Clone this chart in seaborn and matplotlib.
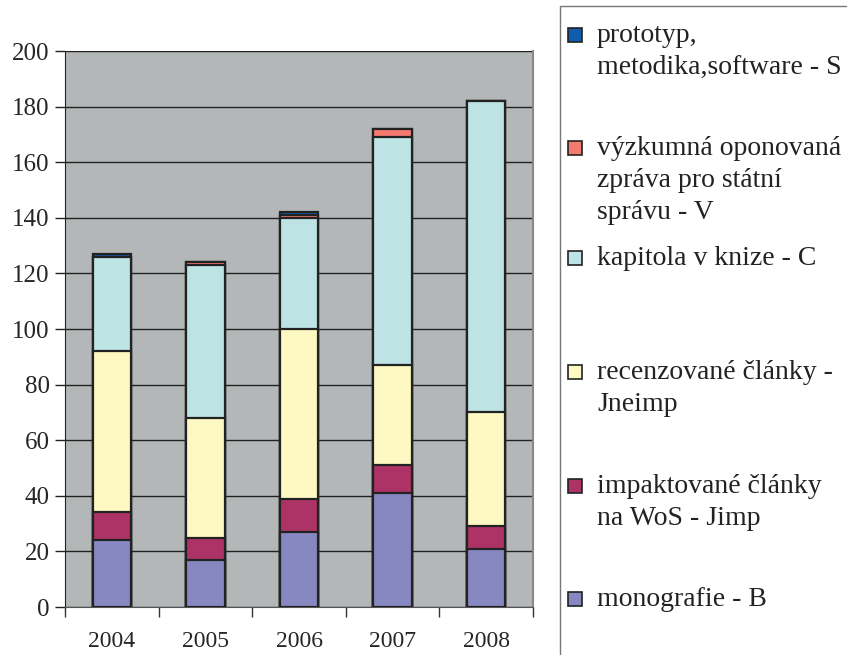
import numpy as np
import pandas as pd
import matplotlib
matplotlib.use("Agg")
import matplotlib.pyplot as plt
import seaborn as sns
from matplotlib.patches import Rectangle

years = ["2004", "2005", "2006", "2007", "2008"]

# segment values, bottom to top
monografie = [24, 17, 27, 41, 21]
jimp = [10, 8, 12, 10, 8]
jneimp = [58, 43, 61, 36, 41]
kapitola = [34, 55, 40, 82, 112]
zprava = [0, 1, 1, 3, 0]
prototyp = [1, 0, 1, 0, 0]

labels = [
    "monografie - B",
    "impaktované články\nna WoS - Jimp",
    "recenzované články -\nJneimp",
    "kapitola v knize - C",
    "výzkumná oponovaná\nzpráva pro státní\nsprávu - V",
    "prototyp,\nmetodika,software - S",
]
colors = ["#8788C2", "#AD3366", "#FEF9C3", "#BDE3E4", "#F47A72", "#0F5DAE"]

series = [monografie, jimp, jneimp, kapitola, zprava, prototyp]

sns.set_style("white")
plt.rcParams["font.family"] = ["Liberation Serif", "DejaVu Serif"]

fig = plt.figure(figsize=(8.47, 6.55), dpi=100)
ax = fig.add_axes([65 / 847, 48 / 655, 468 / 847, 556 / 655])
ax.set_facecolor("#B4B7B8")

# cumulative totals drawn from top layer down so lower layers overlay
cum = np.cumsum(np.array(series), axis=0)
for i in range(len(series) - 1, -1, -1):
    df = pd.DataFrame({"year": years, "value": cum[i]})
    sns.barplot(data=df, x="year", y="value", color=colors[i], width=0.41,
                edgecolor="#222222", linewidth=1.6, saturation=1, ax=ax, zorder=3)

ax.set_ylim(0, 200)
ax.set_xlim(-0.5, 4.5)
ax.set_yticks(np.arange(0, 201, 20))
ax.yaxis.grid(True, color="#222222", linewidth=1.0, zorder=0)
ax.set_axisbelow(True)
ax.set_xlabel("")
ax.set_ylabel("")

ax.set_xticks(range(5))
ax.set_xticklabels(years)
ax.set_xticks(np.arange(-0.5, 4.6, 1), minor=True)
ax.tick_params(axis="x", which="major", length=0, pad=17, labelsize=17)
ax.tick_params(axis="x", which="minor", length=7, width=1, color="#333333", direction="out")
ax.tick_params(axis="y", length=7, width=1, color="#222222", direction="out", labelsize=18, pad=4)
ax.tick_params(axis="both", bottom=True, left=True, which="both")

ax.spines["top"].set_visible(False)
ax.spines["left"].set_color("#222222")
ax.spines["bottom"].set_color("#555555")
ax.spines["right"].set_color("#888888")
ax.spines["right"].set_linewidth(1.5)

# legend box on the right
fig.patches.append(Rectangle((560 / 847, -0.01), 0.4, 1 - 6 / 655 + 0.01,
                             transform=fig.transFigure, fill=False,
                             edgecolor="#777777", linewidth=1))
legend_y = [35, 148, 258, 372, 486, 599]
order = [5, 4, 3, 2, 1, 0]
for y, idx in zip(legend_y, order):
    fig.patches.append(Rectangle((568 / 847, 1 - (y + 7) / 655), 14 / 847, 14 / 655,
                                 transform=fig.transFigure, facecolor=colors[idx],
                                 edgecolor="#222222", linewidth=1.2))
    fig.text(597 / 847, 1 - (y - 12) / 655, labels[idx], fontsize=20,
             va="top", ha="left", linespacing=1.37, color="#222222")

fig.savefig("out.png", dpi=100)
